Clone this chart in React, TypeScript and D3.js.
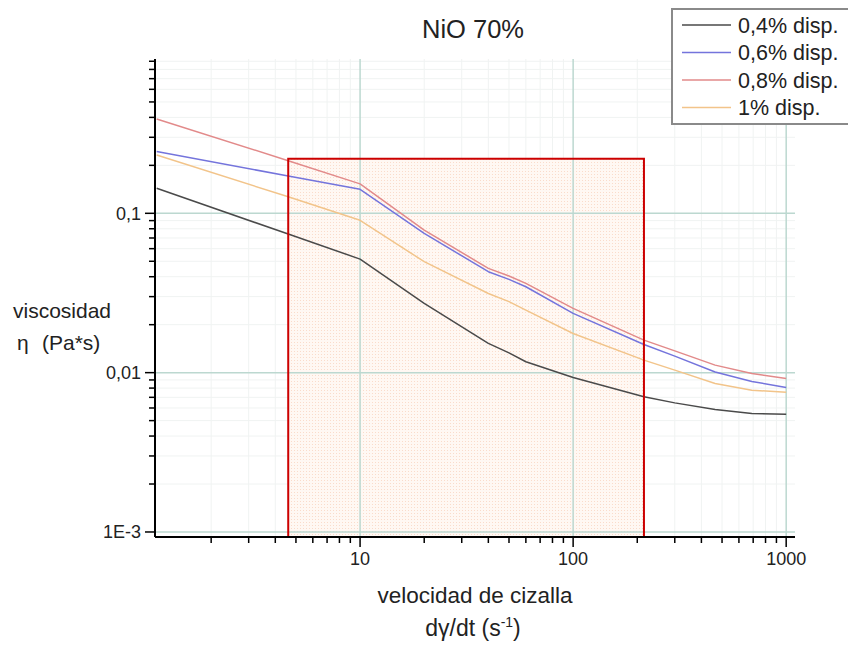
import React from "react";
import { scaleLog, line } from "d3";

// shear rate (s^-1) sampled along every curve
const shearRate = [1.11, 4.6, 10, 20, 40, 50, 60, 100, 215, 300, 464, 690, 1000];
// viscosity (Pa*s) per dispersant level
const disp04 = [0.1436, 0.0741, 0.0516, 0.0272, 0.01526, 0.0133, 0.0117, 0.00933, 0.00705, 0.00646, 0.00587, 0.00554, 0.00548];
const disp06 = [0.244, 0.1715, 0.1415, 0.0749, 0.043, 0.0385, 0.0346, 0.02355, 0.01503, 0.0127, 0.0101, 0.0088, 0.00807];
const disp08 = [0.391, 0.214, 0.153, 0.0785, 0.0451, 0.0404, 0.0363, 0.0253, 0.016, 0.0137, 0.01115, 0.00989, 0.0092];
const disp1 = [0.232, 0.127, 0.0904, 0.0497, 0.0314, 0.0279, 0.0247, 0.0176, 0.01198, 0.01037, 0.00855, 0.00776, 0.00754];

const seriesNames = ["0,4% disp.", "0,6% disp.", "0,8% disp.", "1% disp."];
const seriesValues = [disp04, disp06, disp08, disp1];
const seriesColors = ["#4a4a4a", "#7474dc", "#e28a8a", "#f2c48a"];

const xMajor = [10, 100, 1000];
const xMajorLabels = ["10", "100", "1000"];
const yMajor = [0.1, 0.01, 0.001];
const yMajorLabels = ["0,1", "0,01", "1E-3"];

// highlighted range
const boxX = [4.6, 215];
const boxTop = 0.22;

const W = 848;
const H = 646;
const left = 155, right = 795, top = 59, bottom = 537;

const x = scaleLog().domain([1.09, 1100]).range([left, right]);
const y = scaleLog().domain([0.00093, 0.93]).range([bottom, top]);

const minorOf = (lo: number, hi: number) => {
  const out: number[] = [];
  for (let d = lo; d <= hi; d *= 10) {
    for (let k = 2; k <= 9; k++) out.push(+(d * k).toPrecision(3));
  }
  return out;
};
const xMinor = minorOf(1, 100).filter((v) => v >= 1.09 && v <= 1100);
const yMinor = minorOf(0.0001, 0.1).filter((v) => v >= 0.00093 && v <= 0.93);

const font = "Liberation Sans, Arial, sans-serif";

export default function App() {
  const path = line<number>()
    .x((_, i) => x(shearRate[i]))
    .y((d) => y(d));

  return (
    <div style={{ position: "absolute", left: 0, top: 0 }}>
      <svg width={W} height={H} style={{ display: "block", background: "#fff" }} fontFamily={font}>
        <defs>
          <pattern id="dots" width="3" height="3" patternUnits="userSpaceOnUse">
            <rect width="3" height="3" fill="#fff8f3" />
            <rect width="1" height="1" fill="#fadccb" />
          </pattern>
        </defs>

        {/* minor grid */}
        {xMinor.map((v) => (
          <line key={"xm" + v} x1={x(v)} x2={x(v)} y1={top} y2={bottom} stroke="#f0f3f2" strokeWidth={1} />
        ))}
        {yMinor.map((v) => (
          <line key={"ym" + v} x1={left} x2={right} y1={y(v)} y2={y(v)} stroke="#f0f3f2" strokeWidth={1} />
        ))}

        {/* highlighted range */}
        <rect
          x={x(boxX[0])}
          y={y(boxTop)}
          width={x(boxX[1]) - x(boxX[0])}
          height={bottom - y(boxTop)}
          fill="url(#dots)"
        />

        {/* major grid */}
        {xMajor.map((v) => (
          <line key={"xg" + v} x1={x(v)} x2={x(v)} y1={top} y2={bottom} stroke="#bcd8d0" strokeWidth={1.5} />
        ))}
        {yMajor.map((v) => (
          <line key={"yg" + v} x1={left} x2={right} y1={y(v)} y2={y(v)} stroke="#bcd8d0" strokeWidth={1.5} />
        ))}

        {/* curves */}
        {seriesValues.map((vals, i) => (
          <path key={seriesNames[i]} d={path(vals) || ""} fill="none" stroke={seriesColors[i]} strokeWidth={1.5} strokeLinejoin="round" />
        ))}

        <rect
          x={x(boxX[0])}
          y={y(boxTop)}
          width={x(boxX[1]) - x(boxX[0])}
          height={bottom - y(boxTop)}
          fill="none"
          stroke="#cc0000"
          strokeWidth={2}
        />

        {/* axes */}
        <line x1={left} x2={left} y1={top} y2={bottom} stroke="#000" strokeWidth={2} />
        <line x1={left} x2={right} y1={bottom} y2={bottom} stroke="#000" strokeWidth={2} />
        {yMinor.map((v) => (
          <line key={"yt" + v} x1={left - 6} x2={left} y1={y(v)} y2={y(v)} stroke="#000" strokeWidth={1.5} />
        ))}
        {yMajor.map((v, i) => (
          <g key={"yl" + v}>
            <line x1={left - 10} x2={left} y1={y(v)} y2={y(v)} stroke="#000" strokeWidth={1.5} />
            <text x={left - 14} y={y(v)} dy="0.35em" textAnchor="end" fontSize={18} fill="#222">
              {yMajorLabels[i]}
            </text>
          </g>
        ))}
        {xMinor.map((v) => (
          <line key={"xt" + v} x1={x(v)} x2={x(v)} y1={bottom} y2={bottom + 6} stroke="#000" strokeWidth={1.5} />
        ))}
        {xMajor.map((v, i) => (
          <g key={"xl" + v}>
            <line x1={x(v)} x2={x(v)} y1={bottom} y2={bottom + 10} stroke="#000" strokeWidth={1.5} />
            <text x={x(v)} y={bottom + 28} textAnchor="middle" fontSize={18} fill="#222">
              {xMajorLabels[i]}
            </text>
          </g>
        ))}

        {/* titles */}
        <text x={473} y={38} textAnchor="middle" fontSize={25.5} fill="#222">NiO 70%</text>
        <text x={13} y={318} fontSize={21} fill="#222">viscosidad</text>
        <text x={17} y={350} fontSize={21} fill="#222">η</text>
        <text x={42} y={350} fontSize={21} fill="#222">(Pa*s)</text>
        <text x={475} y={603} textAnchor="middle" fontSize={22.5} fill="#222">velocidad de cizalla</text>
        <text x={473} y={636} textAnchor="middle" fontSize={23} fill="#222">
          dγ/dt (s<tspan dy={-9} fontSize={14}>-1</tspan><tspan dy={9}>)</tspan>
        </text>

        {/* legend */}
        <rect x={672} y={9} width={190} height={115} fill="#fff" stroke="#8a8a8a" strokeWidth={2} />
        {seriesNames.map((name, i) => (
          <g key={"lg" + name}>
            <line x1={682} x2={731} y1={25 + i * 27.5} y2={25 + i * 27.5} stroke={seriesColors[i]} strokeWidth={1.5} />
            <text x={738} y={25 + i * 27.5} dy="0.35em" fontSize={21.5} fill="#222">{name}</text>
          </g>
        ))}
      </svg>
    </div>
  );
}
